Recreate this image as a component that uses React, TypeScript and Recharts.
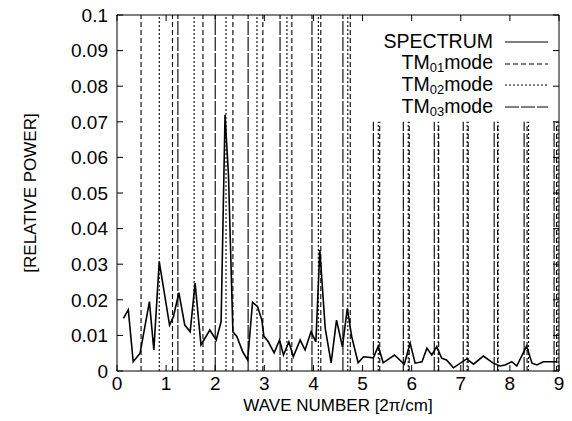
import { ComposedChart, Line, XAxis, YAxis, ReferenceLine, Legend } from "recharts";

// spectrum
const waveNumber = [
  0.13, 0.23, 0.33, 0.47, 0.66, 0.75, 0.86, 1.07, 1.15, 1.26, 1.38, 1.49, 1.59, 1.71, 1.89, 2.02,
  2.12, 2.2, 2.27, 2.36, 2.44, 2.56, 2.66, 2.76, 2.86, 2.95, 2.99, 3.08, 3.2, 3.31, 3.39, 3.5,
  3.59, 3.73, 3.83, 3.95, 4.05, 4.13, 4.24, 4.36, 4.47, 4.59, 4.69, 4.78, 4.91, 5.02, 5.22, 5.32,
  5.42, 5.65, 5.85, 5.97, 6.07, 6.21, 6.31, 6.41, 6.51, 6.61, 6.71, 6.85, 7.12, 7.26, 7.46, 7.66,
  7.8, 7.9, 8.04, 8.14, 8.34, 8.45, 8.55, 8.68, 8.95,
];
const relativePower = [
  0.0148, 0.0172, 0.0026, 0.005, 0.0195, 0.0059, 0.0307, 0.0129, 0.0153, 0.022, 0.0129, 0.011, 0.0247, 0.0073, 0.0115, 0.0087,
  0.0139, 0.072, 0.055, 0.011, 0.0097, 0.0054, 0.0031, 0.0193, 0.0181, 0.0143, 0.0098, 0.0082, 0.0051, 0.0087, 0.0045, 0.0082,
  0.004, 0.0087, 0.0059, 0.011, 0.0082, 0.034, 0.012, 0.0023, 0.0143, 0.0068, 0.0176, 0.0096, 0.0023, 0.004, 0.0037, 0.007,
  0.0023, 0.0045, 0.0019, 0.0078, 0.0022, 0.0026, 0.0064, 0.0045, 0.0068, 0.0036, 0.0031, 0.0009, 0.0034, 0.0019, 0.0042, 0.0022,
  0.0014, 0.0017, 0.0026, 0.0014, 0.007, 0.0022, 0.0017, 0.0026, 0.0026,
];

// mode wave numbers
const tm01Modes = [0.49, 1.13, 1.75, 2.36, 2.97, 3.56, 4.15, 4.75, 5.35, 5.95, 6.55, 7.15, 7.75, 8.35, 8.95];
const tm02Modes = [0.86, 1.57, 2.22, 2.85, 3.46, 4.1, 4.7, 5.32, 5.93, 6.54, 7.13, 7.76, 8.38, 8.98];
const tm03Modes = [1.24, 2.0, 2.67, 3.32, 3.97, 4.6, 5.22, 5.83, 6.46, 7.05, 7.68, 8.29, 8.9];

const xTicks = [0, 1, 2, 3, 4, 5, 6, 7, 8, 9];
const yTicks = [0, 0.01, 0.02, 0.03, 0.04, 0.05, 0.06, 0.07, 0.08, 0.09, 0.1];
const yTickLabels = ["0", "0.01", "0.02", "0.03", "0.04", "0.05", "0.06", "0.07", "0.08", "0.09", "0.1"];

// lines right of this stop short under the legend
const LEGEND_EDGE = 5;
const SHORT_TOP = 0.07;

const FONT = '"Liberation Sans", Arial, Helvetica, sans-serif';

const modeStyles = [
  { name: "TM", sub: "01", modes: tm01Modes, dash: "5 3" },
  { name: "TM", sub: "02", modes: tm02Modes, dash: "2 2" },
  { name: "TM", sub: "03", modes: tm03Modes, dash: "14 2" },
];

const data = waveNumber.map((k, i) => ({ k, p: relativePower[i] }));

const legendRows = [
  { label: <>SPECTRUM</>, dash: undefined as string | undefined },
  ...modeStyles.map((m) => ({
    label: (
      <>
        {m.name}
        <span style={{ fontSize: 13, verticalAlign: "-3px" }}>{m.sub}</span>mode
      </>
    ),
    dash: m.dash,
  })),
];

function ChartLegend() {
  return (
    <div style={{ fontFamily: FONT, fontSize: 19.5, color: "#000", lineHeight: 1 }}>
      {legendRows.map((r, i) => (
        <div key={i} style={{ display: "flex", alignItems: "center", height: 21.8 }}>
          <div style={{ width: 133, textAlign: "right", whiteSpace: "nowrap" }}>{r.label}</div>
          <svg width={56} height={10}>
            <line x1={12} x2={55} y1={5} y2={5} stroke="#000" strokeWidth={1} strokeDasharray={r.dash} />
          </svg>
        </div>
      ))}
    </div>
  );
}

export default function App() {
  const tickStyle = { fontFamily: FONT, fontSize: 19, fill: "#000" };
  const labelStyle = { fontFamily: FONT, fontSize: 17, fill: "#000", textAnchor: "middle" as const };
  return (
    <div style={{ position: "absolute", left: 0, top: 0, background: "#fff" }}>
      <ComposedChart width={572} height={421} data={data} margin={{ top: 0, right: 0, bottom: 0, left: 17 }}>
        <XAxis
          dataKey="k"
          type="number"
          domain={[0, 9]}
          ticks={xTicks}
          allowDataOverflow
          height={50}
          tickSize={-6}
          tickMargin={12}
          tick={tickStyle}
          stroke="#000"
          label={{ value: "WAVE NUMBER [2π/cm]", position: "insideBottom", offset: 10, style: labelStyle }}
        />
        <XAxis
          xAxisId="top"
          dataKey="k"
          orientation="top"
          type="number"
          domain={[0, 9]}
          ticks={xTicks}
          allowDataOverflow
          height={15}
          tickSize={-6}
          tickFormatter={() => ""}
          stroke="#000"
        />
        <YAxis
          type="number"
          domain={[0, 0.1]}
          ticks={yTicks}
          allowDataOverflow
          width={100}
          tickSize={-6}
          tickMargin={15}
          tick={tickStyle}
          tickFormatter={(v: number) => yTickLabels[yTicks.indexOf(v)] ?? String(v)}
          stroke="#000"
          label={{ value: "[RELATIVE POWER]", angle: -90, position: "insideLeft", offset: 13, style: labelStyle }}
        />
        <YAxis
          yAxisId="right"
          orientation="right"
          type="number"
          domain={[0, 0.1]}
          ticks={yTicks}
          allowDataOverflow
          width={13}
          tickSize={-6}
          tickFormatter={() => ""}
          stroke="#000"
        />
        {modeStyles.map((m) =>
          m.modes.map((k) =>
            k < LEGEND_EDGE ? (
              <ReferenceLine key={m.sub + k} x={k} stroke="#000" strokeWidth={1.1} strokeDasharray={m.dash} />
            ) : (
              <ReferenceLine
                key={m.sub + k}
                segment={[{ x: k, y: 0 }, { x: k, y: SHORT_TOP }]}
                stroke="#000"
                strokeWidth={1.1}
                strokeDasharray={m.dash}
              />
            )
          )
        )}
        <Line dataKey="p" type="linear" stroke="#000" strokeWidth={1.6} dot={false} isAnimationActive={false} />
        {/* binds the top and right frame axes */}
        <Line
          xAxisId="top"
          yAxisId="right"
          dataKey="p"
          stroke="none"
          dot={false}
          activeDot={false}
          legendType="none"
          isAnimationActive={false}
        />
        <Legend
          layout="vertical"
          align="center"
          verticalAlign="middle"
          content={() => <ChartLegend />}
          wrapperStyle={{ position: "absolute", left: 360, top: 31, width: 200, height: 90 }}
        />
      </ComposedChart>
    </div>
  );
}
